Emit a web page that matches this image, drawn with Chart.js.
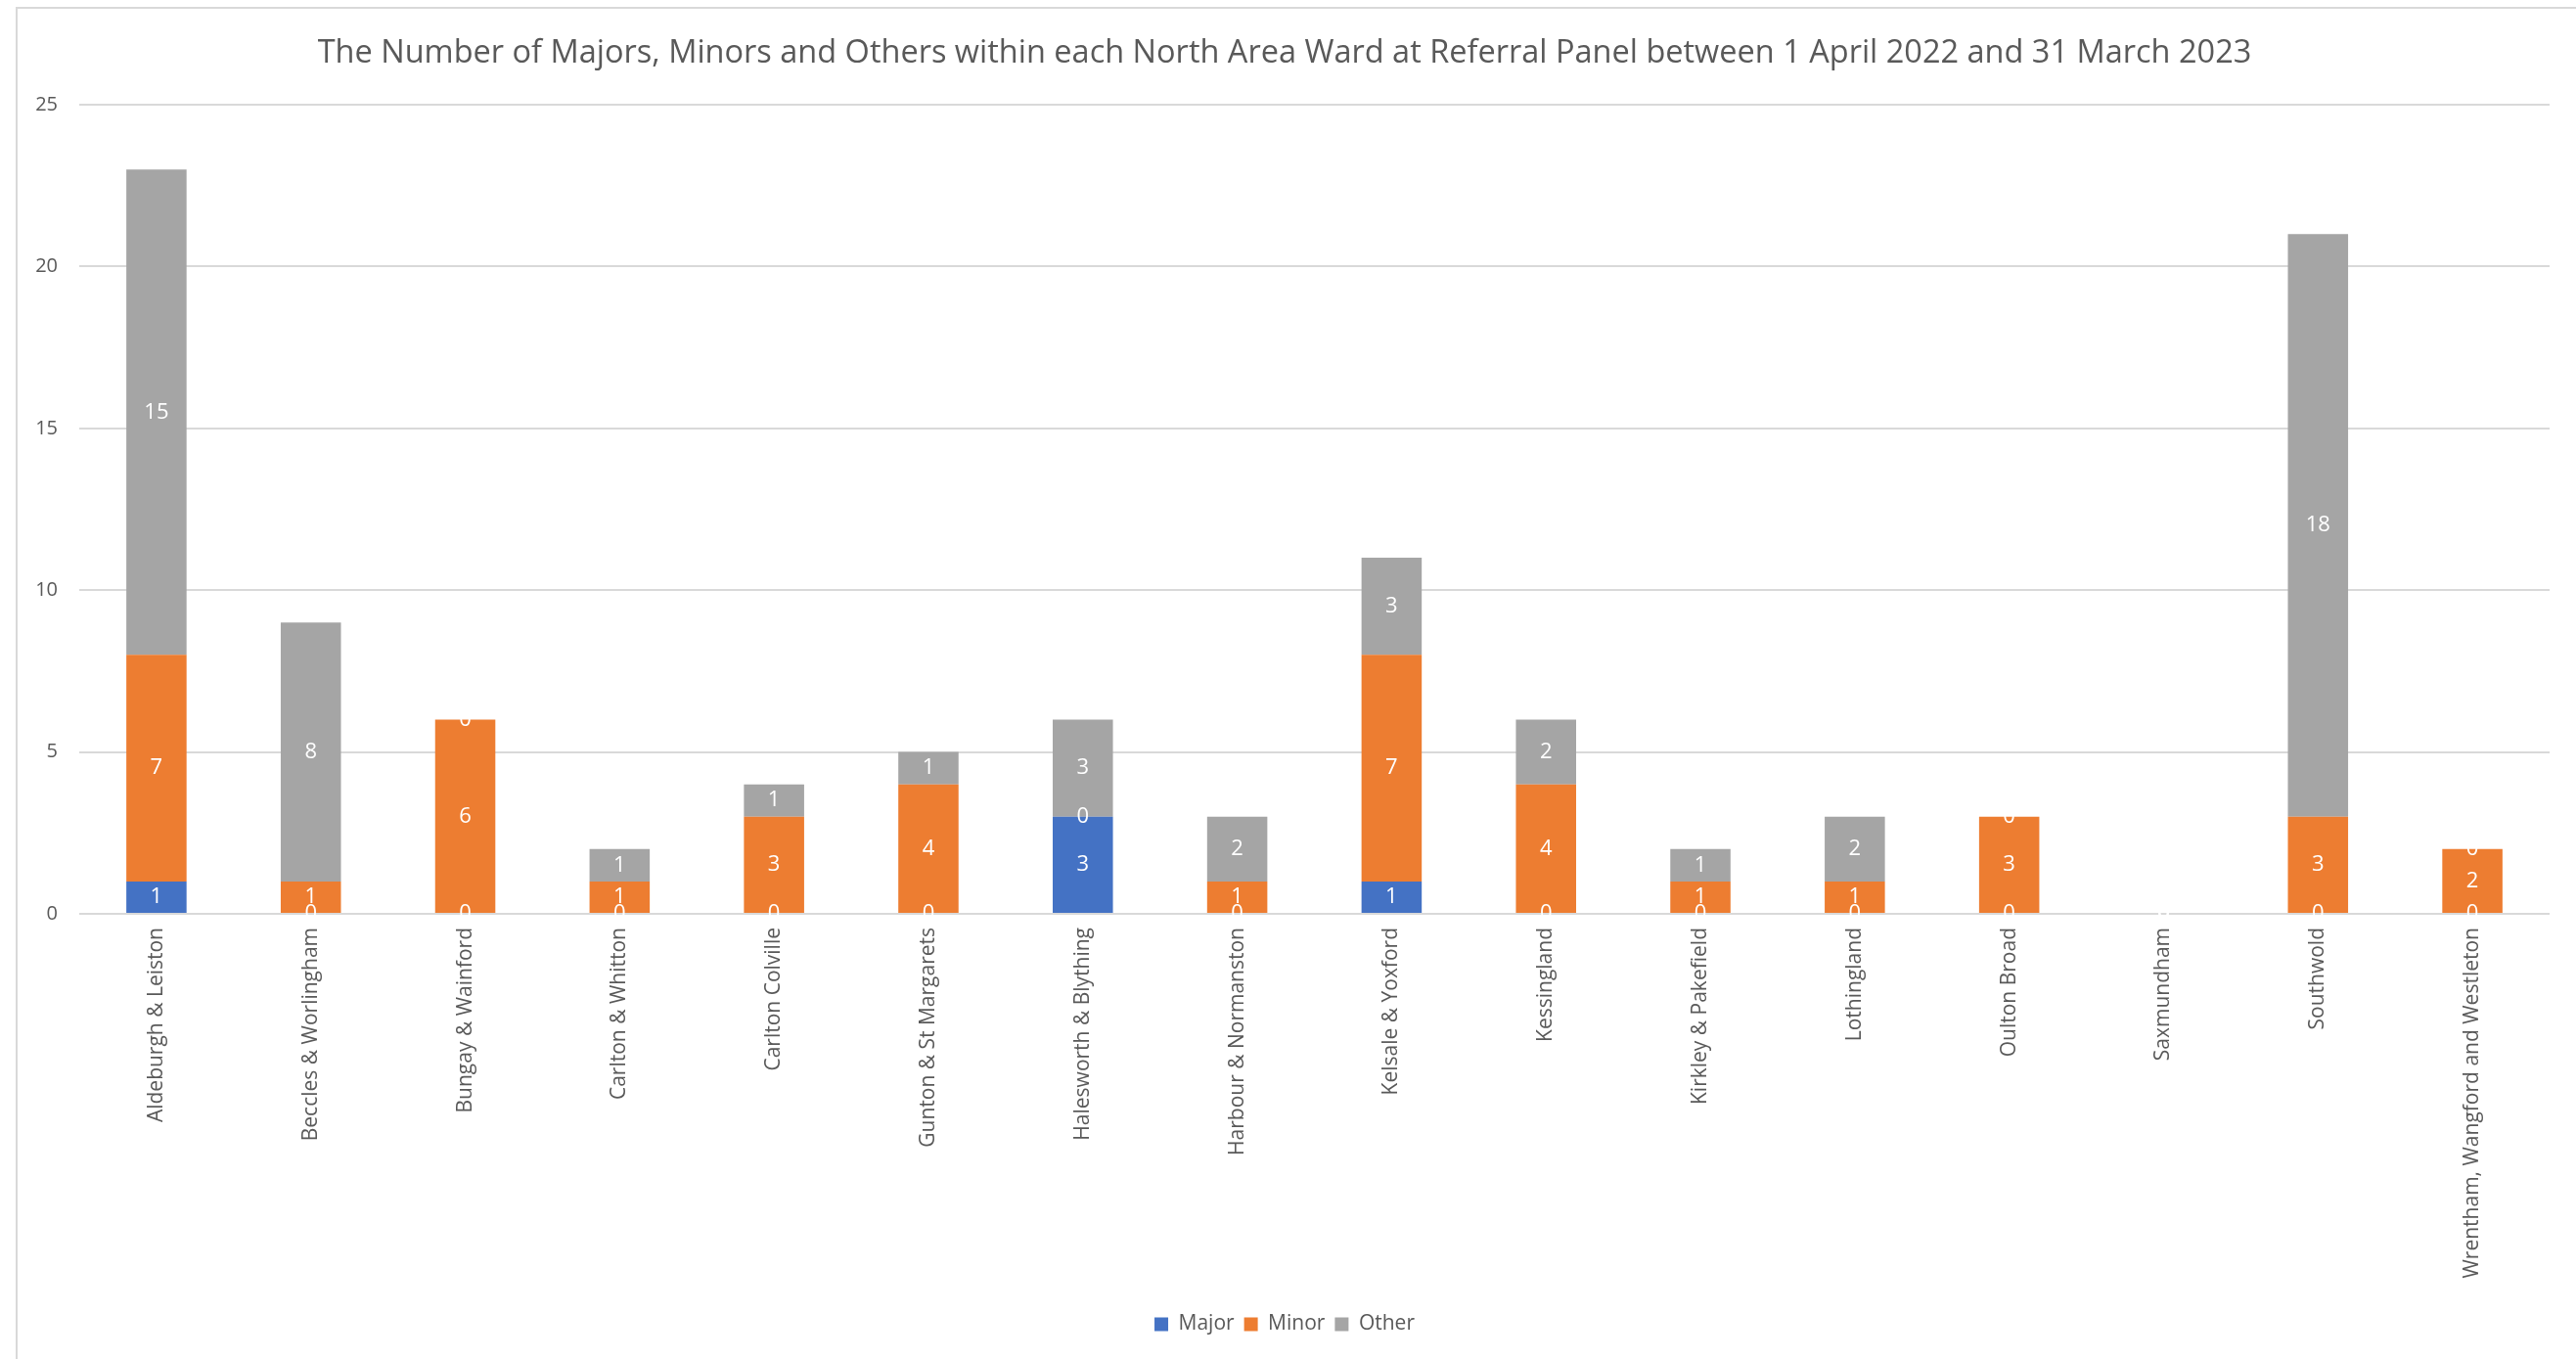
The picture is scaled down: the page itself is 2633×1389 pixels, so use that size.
<!DOCTYPE html>
<html>
<head>
<meta charset="utf-8">
<title>North Area Ward Referral Panel</title>
<script src="https://cdn.jsdelivr.net/npm/chart.js@4.4.0/dist/chart.umd.min.js"></script>
<style>
    html, body { margin: 0; padding: 0; background: #ffffff; }
    #wrap { width: 2633px; height: 1389px; position: relative; }
</style>
</head>
<body>
<div id="wrap"><canvas id="chart"></canvas></div>
<script>
// Chart data
const wards = [
    'Aldeburgh & Leiston', 'Beccles & Worlingham', 'Bungay & Wainford', 'Carlton & Whitton',
    'Carlton Colville', 'Gunton & St Margarets', 'Halesworth & Blything', 'Harbour & Normanston',
    'Kelsale & Yoxford', 'Kessingland', 'Kirkley & Pakefield', 'Lothingland',
    'Oulton Broad', 'Saxmundham', 'Southwold', 'Wrentham, Wangford and Westleton'
];
const majors = [1, 0, 0, 0, 0, 0, 3, 0, 1, 0, 0, 0, 0, 0, 0, 0];
const minors = [7, 1, 6, 1, 3, 4, 0, 1, 7, 4, 1, 1, 3, 0, 3, 2];
const others = [15, 8, 0, 1, 1, 1, 3, 2, 3, 2, 1, 2, 0, 0, 18, 0];
const yTicks = [0, 5, 10, 15, 20, 25];

const FONT = '"Open Sans", "Noto Sans", sans-serif';
const TEXT_GREY = '#595959';

// Draws the white value labels in the middle of every segment (zeros too, like Excel)
const segmentLabels = {
    id: 'segmentLabels',
    afterDatasetsDraw(chart) {
        const ctx = chart.ctx;
        ctx.save();
        ctx.fillStyle = '#ffffff';
        ctx.font = '22px ' + FONT;
        ctx.textAlign = 'center';
        ctx.textBaseline = 'middle';
        chart.data.datasets.forEach(function(ds, i) {
            const meta = chart.getDatasetMeta(i);
            meta.data.forEach(function(bar, j) {
                const yMid = (bar.y + bar.base) / 2;
                ctx.fillText(String(ds.data[j]), bar.x, yMid);
            });
        });
        ctx.restore();
    }
};

// Thin grey frame along the top and left edges
const frame = {
    id: 'frame',
    beforeDraw(chart) {
        const ctx = chart.ctx;
        ctx.save();
        ctx.strokeStyle = '#d9d9d9';
        ctx.lineWidth = 2;
        ctx.beginPath();
        ctx.moveTo(17, chart.height);
        ctx.lineTo(17, 8);
        ctx.lineTo(chart.width, 8);
        ctx.stroke();
        ctx.restore();
    }
};

new Chart(document.getElementById('chart'), {
    type: 'bar',
    data: {
        labels: wards,
        datasets: [
            { label: 'Major', data: majors, backgroundColor: '#4472c4' },
            { label: 'Minor', data: minors, backgroundColor: '#ed7d31' },
            { label: 'Other', data: others, backgroundColor: '#a5a5a5' }
        ]
    },
    options: {
        responsive: true,
        maintainAspectRatio: false,
        animation: false,
        layout: { padding: { left: 20, right: 27, top: 10, bottom: 15 } },
        datasets: { bar: { barPercentage: 0.39, categoryPercentage: 1.0 } },
        plugins: {
            title: {
                display: true,
                text: 'The Number of Majors, Minors and Others within each North Area Ward at Referral Panel between 1 April 2022 and 31 March 2023',
                color: TEXT_GREY,
                font: { family: FONT, size: 32.5, weight: 'normal' },
                padding: { top: 25, bottom: 33 }
            },
            legend: {
                position: 'bottom',
                labels: {
                    color: TEXT_GREY,
                    font: { family: FONT, size: 21 },
                    boxWidth: 14,
                    boxHeight: 14,
                    padding: 10
                }
            },
            tooltip: { enabled: false }
        },
        scales: {
            x: {
                stacked: true,
                grid: { display: false, drawTicks: false },
                border: { display: false },
                ticks: {
                    color: TEXT_GREY,
                    font: { family: FONT, size: 21 },
                    minRotation: 90,
                    maxRotation: 90,
                    autoSkip: false,
                    padding: 14
                },
                afterFit(scale) { scale.height = 399; }
            },
            y: {
                stacked: true,
                min: 0,
                max: 25,
                afterBuildTicks(scale) {
                    scale.ticks = yTicks.map(v => ({ value: v }));
                },
                grid: { color: '#d9d9d9', lineWidth: 2, drawTicks: false },
                border: { display: false },
                ticks: {
                    color: TEXT_GREY,
                    font: { family: FONT, size: 20 },
                    padding: 22
                },
                afterFit(scale) { scale.width = 61; }
            }
        }
    },
    plugins: [frame, segmentLabels]
});
</script>
</body>
</html>
